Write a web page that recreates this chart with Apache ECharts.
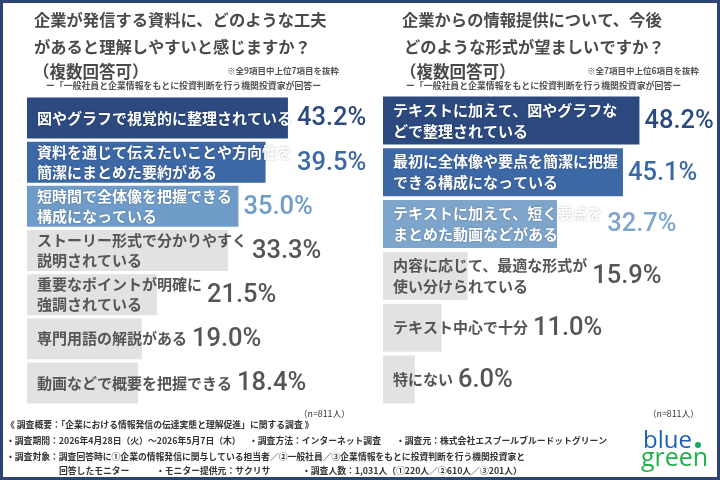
<!DOCTYPE html>
<html>
<head>
<meta charset="utf-8">
<script src="https://cdn.jsdelivr.net/npm/echarts@6/dist/echarts.min.js"></script>
<style>
  html, body { margin: 0; padding: 0; background: #fff; }
  #chart { width: 720px; height: 480px; }
</style>
</head>
<body>
<div id="chart"></div>
<script>
// --- data ---
const leftCategories = [
  '図やグラフで視覚的に整理されている',
  '資料を通じて伝えたいことや方向性を\n簡潔にまとめた要約がある',
  '短時間で全体像を把握できる\n構成になっている',
  'ストーリー形式で分かりやすく\n説明されている',
  '重要なポイントが明確に\n強調されている',
  '専門用語の解説がある',
  '動画などで概要を把握できる'
];
const leftValues = [43.2, 39.5, 35.0, 33.3, 21.5, 19.0, 18.4];

const rightCategories = [
  'テキストに加えて、図やグラフな\nどで整理されている',
  '最初に全体像や要点を簡潔に把握\nできる構成になっている',
  'テキストに加えて、短く要点を\nまとめた動画などがある',
  '内容に応じて、最適な形式が\n使い分けられている',
  'テキスト中心で十分',
  '特にない'
];
const rightValues = [48.2, 45.1, 32.7, 15.9, 11.0, 6.0];

// --- styles ---
const NAVY = '#2c4a80', MID = '#3d68a6', LIGHT = '#6f9cc8', LIGHT_R = '#7ea5cc';
const GRAY = '#e2e2e2', GRAY_TEXT = '#555555', TITLE = '#4a4a4a', FOOT = '#333333';
const leftBarColors = [NAVY, MID, LIGHT, GRAY, GRAY, GRAY, GRAY];
const rightBarColors = [NAVY, MID, LIGHT_R, GRAY, GRAY, GRAY];
const JP = '"Noto Sans CJK JP", "Noto Sans", sans-serif';
const NUM = 'Roboto, "Noto Sans", sans-serif';
const LABEL_SIZE = 15, LABEL_PAD = 10;

const ctx = document.createElement('canvas').getContext('2d');
function textWidth(str) {
  ctx.font = 'bold ' + LABEL_SIZE + 'px ' + JP;
  return Math.max(...str.split('\n').map(s => ctx.measureText(s).width));
}

function isGray(c) { return c === GRAY; }

function panelSeries(idx, values, colors, barWidth, lineHeight, offsets) {
  return [
    {
      type: 'bar',
      xAxisIndex: idx,
      yAxisIndex: idx,
      barWidth: barWidth,
      barGap: '-100%',
      silent: true,
      data: values.map((v, i) => ({
        value: v,
        itemStyle: { color: colors[i] },
        label: {
          color: isGray(colors[i]) ? GRAY_TEXT : '#fff',
          textShadowColor: isGray(colors[i]) ? 'transparent' : 'rgba(0,0,0,0.3)',
          textShadowBlur: isGray(colors[i]) ? 0 : 2
        }
      })),
      label: {
        show: true,
        position: 'insideLeft',
        distance: LABEL_PAD,
        formatter: p => p.name,
        fontFamily: JP,
        fontSize: LABEL_SIZE,
        fontWeight: 'bold',
        lineHeight: lineHeight
      }
    },
    {
      type: 'bar',
      xAxisIndex: idx,
      yAxisIndex: idx,
      barWidth: barWidth,
      barGap: '-100%',
      silent: true,
      itemStyle: { color: 'rgba(0,0,0,0)' },
      data: values.map((v, i) => ({
        value: v,
        label: {
          color: isGray(colors[i]) ? GRAY_TEXT : colors[i],
          offset: [offsets ? offsets[i] : 0, 1]
        }
      })),
      label: {
        show: true,
        position: 'right',
        distance: 5,
        formatter: p => p.value.toFixed(1) + '%',
        fontFamily: NUM,
        fontSize: 25.5,
        fontWeight: 500
      }
    }
  ];
}

function txt(text, x, y, size, color, align, weight) {
  return {
    type: 'text',
    x: x, y: y,
    style: {
      text: text,
      font: (weight || 'bold') + ' ' + size + 'px ' + JP,
      fill: color,
      align: align || 'left', textAlign: align || 'left',
      verticalAlign: 'middle', textVerticalAlign: 'middle'
    }
  };
}

const graphics = [
  { type: 'rect', shape: { x: 1.5, y: 1.5, width: 717, height: 477 },
    style: { fill: 'none', stroke: '#2d4470', lineWidth: 3 }, z: 100 },
  // left header
  txt('企業が発信する資料に、どのような工夫', 34, 20, 16.3, TITLE),
  txt('があると理解しやすいと感じますか？', 34, 47, 16.3, TITLE),
  txt('（複数回答可）', 33, 72, 16.5, TITLE),
  txt('※全9項目中上位7項目を抜粋', 339, 71, 8.5, GRAY_TEXT, 'right'),
  txt('ー「一般社員と企業情報をもとに投資判断を行う機関投資家が回答ー', 46, 86, 8.9, GRAY_TEXT),
  // right header
  txt('企業からの情報提供について、今後', 402, 20, 16.3, TITLE),
  txt('どのような形式が望ましいですか？', 404, 47, 16.3, TITLE),
  txt('（複数回答可）', 400, 72, 16.5, TITLE),
  txt('※全7項目中上位6項目を抜粋', 699, 71, 8.5, GRAY_TEXT, 'right'),
  txt('ー「一般社員と企業情報をもとに投資判断を行う機関投資家が回答ー', 406, 86, 8.9, GRAY_TEXT),
  // n labels
  txt('（n=811人）', 350, 414, 8.8, FOOT, 'right', 'normal'),
  txt('（n=811人）', 699, 414, 8.8, FOOT, 'right', 'normal'),
  // footer
  txt('《 調査概要：「企業における情報発信の伝達実態と理解促進」に関する調査 》', 6, 425, 8.8, FOOT),
  txt('・調査期間：2026年4月28日（火）～2026年5月7日（木）', 6, 441, 8.8, FOOT),
  txt('・調査方法：インターネット調査', 249, 441, 8.8, FOOT),
  txt('・調査元：株式会社エスプールブルードットグリーン', 396, 441, 8.8, FOOT),
  txt('・調査対象：調査回答時に①企業の情報発信に関与している担当者／②一般社員／③企業情報をもとに投資判断を行う機関投資家と', 6, 457, 8.8, FOOT),
  txt('回答したモニター', 59, 471, 8.8, FOOT),
  txt('・モニター提供元：サクリサ', 156, 471, 8.8, FOOT),
  txt('・調査人数：1,031人（①220人／②610人／③201人）', 302, 471, 8.8, FOOT),
  // logo
  { type: 'text', x: 643, y: 441, style: { text: 'blue', font: '24px "Open Sans", sans-serif',
    fill: '#1b5fbd', verticalAlign: 'middle', textVerticalAlign: 'middle' } },
  { type: 'circle', shape: { cx: 698, cy: 445, r: 3 }, style: { fill: '#1aa56a' } },
  { type: 'text', x: 641, y: 459, style: { text: 'green', font: '25px "Open Sans", sans-serif',
    fill: '#22b14c', verticalAlign: 'middle', textVerticalAlign: 'middle' } }
];

function buildOption(leftOffsets, rightOffsets) {
  return {
    animation: false,
    grid: [
      { left: 27, top: 96, width: 302, height: 309 },
      { left: 383, top: 94.5, width: 266, height: 311 }
    ],
    xAxis: [
      { type: 'value', gridIndex: 0, min: 0, max: 50, show: false },
      { type: 'value', gridIndex: 1, min: 0, max: 50, show: false }
    ],
    yAxis: [
      { type: 'category', gridIndex: 0, data: leftCategories, inverse: true, show: false },
      { type: 'category', gridIndex: 1, data: rightCategories, inverse: true, show: false }
    ],
    graphic: { elements: graphics },
    series: [
      ...panelSeries(0, leftValues, leftBarColors, 41, 20, leftOffsets),
      ...panelSeries(1, rightValues, rightBarColors, 48, 21, rightOffsets)
    ]
  };
}

const chart = echarts.init(document.getElementById('chart'));
chart.setOption(buildOption());

// push the value label past the category text when the text runs over the bar
function offsetsFor(axisIdx, cats, values) {
  const start = chart.convertToPixel({ xAxisIndex: axisIdx }, 0);
  return values.map((v, i) => {
    const end = chart.convertToPixel({ xAxisIndex: axisIdx }, v);
    const textEnd = start + LABEL_PAD + textWidth(cats[i]);
    return Math.max(0, textEnd - end);
  });
}
chart.setOption(buildOption(
  offsetsFor(0, leftCategories, leftValues),
  offsetsFor(1, rightCategories, rightValues)
));
</script>
</body>
</html>
